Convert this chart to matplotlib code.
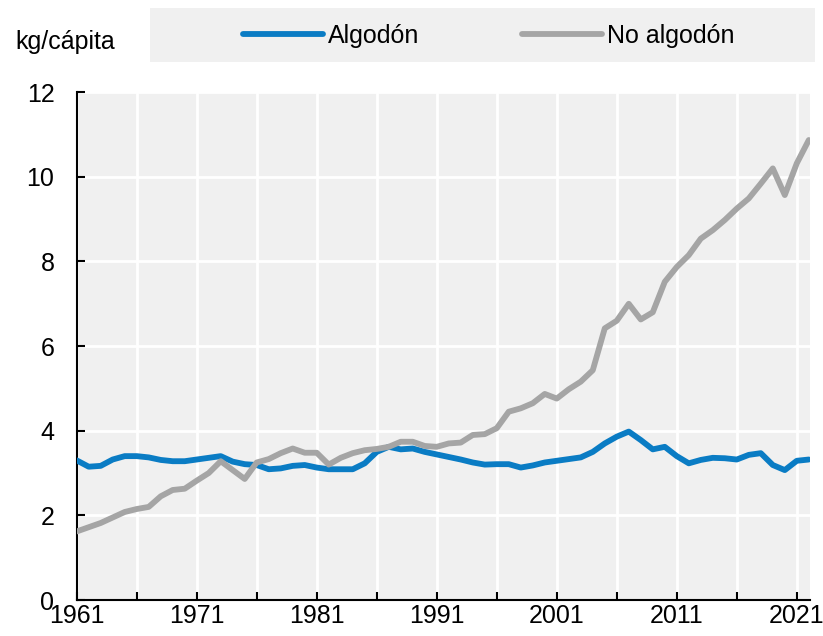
import matplotlib.pyplot as plt
from matplotlib.patches import Rectangle

years = list(range(1961, 2023))
algodon = [3.30, 3.15, 3.17, 3.32, 3.40, 3.40, 3.37, 3.31, 3.28, 3.28,
           3.32, 3.36, 3.40, 3.27, 3.21, 3.19, 3.09, 3.11, 3.17, 3.19,
           3.13, 3.09, 3.09, 3.09, 3.23, 3.50, 3.62, 3.56, 3.58, 3.50,
           3.44, 3.38, 3.32, 3.25, 3.20, 3.21, 3.21, 3.13, 3.18, 3.25,
           3.29, 3.33, 3.37, 3.50, 3.70, 3.86, 3.98, 3.78, 3.56, 3.62,
           3.40, 3.23, 3.31, 3.36, 3.35, 3.32, 3.43, 3.47, 3.19, 3.07,
           3.29, 3.32]
no_algodon = [1.62, 1.72, 1.82, 1.95, 2.08, 2.15, 2.20, 2.45, 2.60, 2.63,
              2.82, 3.00, 3.28, 3.07, 2.86, 3.25, 3.33, 3.47, 3.58, 3.48,
              3.48, 3.20, 3.36, 3.47, 3.54, 3.57, 3.62, 3.74, 3.74, 3.64,
              3.62, 3.70, 3.72, 3.90, 3.92, 4.06, 4.45, 4.53, 4.65, 4.87,
              4.76, 4.98, 5.16, 5.43, 6.42, 6.60, 7.00, 6.63, 6.80, 7.52,
              7.87, 8.15, 8.54, 8.74, 8.98, 9.25, 9.49, 9.84, 10.20, 9.57,
              10.32, 10.87]
xticks = list(range(1961, 2022, 5))
xlabels = ["1961", "", "1971", "", "1981", "", "1991", "", "2001", "", "2011", "", "2021"]
yticks = [0, 2, 4, 6, 8, 10, 12]

plt.rcParams['font.family'] = ['Liberation Sans Narrow', 'Liberation Sans', 'DejaVu Sans']
blue = '#0a7cc4'
grey = '#a5a5a5'
fs = 18

fig = plt.figure(figsize=(8.23, 6.36), dpi=100)
ax = fig.add_axes([0.0932, 0.0566, 0.891, 0.7984])
ax.set_facecolor('#f0f0f0')

ax.plot(years, algodon, color=blue, lw=4.2, label='Algodón', solid_capstyle='round', zorder=3)
ax.plot(years, no_algodon, color=grey, lw=4.2, label='No algodón', solid_capstyle='round', zorder=3)

ax.set_xlim(1961, 2022.1)
ax.set_ylim(0, 12)
ax.set_xticks(xticks)
ax.set_xticklabels(xlabels)
ax.set_yticks(yticks)
ax.grid(True, color='white', lw=2)
ax.set_axisbelow(True)
for s in ['top', 'right']:
    ax.spines[s].set_visible(False)
for s in ['left', 'bottom']:
    ax.spines[s].set_linewidth(1.5)
ax.tick_params(direction='in', length=6, width=1.5, labelsize=fs)
ax.tick_params(axis='x', pad=3)
ax.tick_params(axis='y', pad=16)

# legend band
fig.patches.append(Rectangle((150 / 823, 1 - 62 / 636), 665 / 823, 54 / 636,
                             transform=fig.transFigure, facecolor='#f0f0f0',
                             edgecolor='none', zorder=0))
fig.text(15 / 823, 1 - 42 / 636, 'kg/cápita', fontsize=fs, va='center', ha='left')
fig.legend(loc='center', bbox_to_anchor=(489 / 823, 1 - 36 / 636), ncol=2, frameon=False,
           fontsize=fs, handlelength=3.2, handletextpad=0.2, columnspacing=4.1)

plt.savefig('out.png', dpi=100)
